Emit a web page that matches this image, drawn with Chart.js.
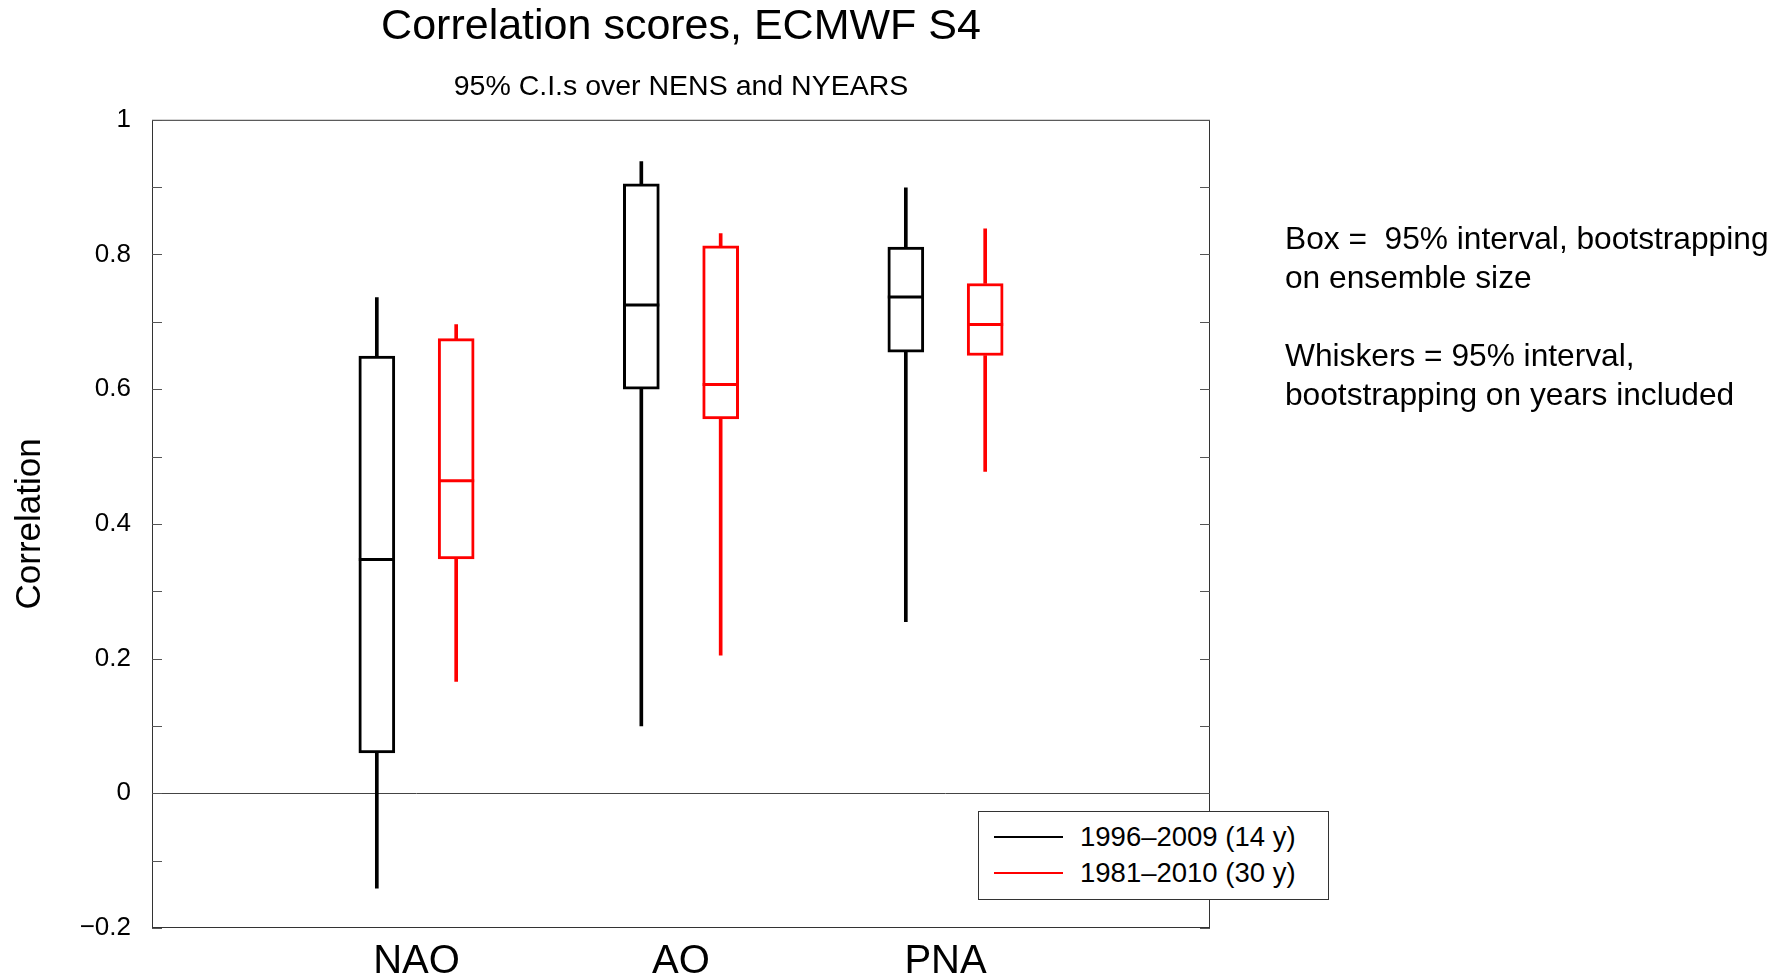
<!DOCTYPE html>
<html>
<head>
<meta charset="utf-8">
<script src="https://cdn.jsdelivr.net/npm/chart.js@4/dist/chart.umd.min.js"></script>
<style>
  body { margin: 0; background: #fff; overflow: hidden; }
  #wrap { position: relative; width: 1790px; height: 975px; }
  #legend {
    position: absolute; left: 978px; top: 811px; width: 349px; height: 87px;
    border: 1px solid #333; background: #fff;
    font-family: "Liberation Sans", Arial, sans-serif; font-size: 27.5px; color: #000;
  }
  .row { position: absolute; left: 0; height: 30px; display: flex; align-items: center; }
  .swatch { width: 69px; height: 2px; margin-left: 15px; margin-right: 17px; }
  #notes {
    position: absolute; left: 1285px; top: 219px; white-space: pre;
    font-family: "Liberation Sans", Arial, sans-serif; font-size: 31.7px; line-height: 39px; color: #000;
  }
</style>
</head>
<body>
<div id="wrap">
  <canvas id="chart" width="1790" height="975"></canvas>
  <div id="legend"></div>
  <div id="notes"></div>
</div>
<script>
// categories and series
const categories = ["NAO", "AO", "PNA"];
const seriesNames = ["1996–2009 (14 y)", "1981–2010 (30 y)"];
const seriesColors = ["#000000", "#ff0000"];

// 1996-2009 (14 y)
const shortWhiskerLow  = [-0.141, 0.100, 0.255];
const shortBoxLow      = [0.060, 0.600, 0.655];
const shortMedian      = [0.347, 0.725, 0.737];
const shortBoxHigh     = [0.649, 0.905, 0.811];
const shortWhiskerHigh = [0.736, 0.938, 0.899];

// 1981-2010 (30 y)
const longWhiskerLow  = [0.166, 0.205, 0.478];
const longBoxLow      = [0.348, 0.556, 0.650];
const longMedian      = [0.464, 0.607, 0.696];
const longBoxHigh     = [0.675, 0.813, 0.757];
const longWhiskerHigh = [0.696, 0.831, 0.838];

// axis ticks
const yTicks = [-0.2, 0, 0.2, 0.4, 0.6, 0.8, 1];
const yMinorTicks = [-0.2, -0.1, 0, 0.1, 0.2, 0.3, 0.4, 0.5, 0.6, 0.7, 0.8, 0.9, 1];

const noteLines = [
  "Box =  95% interval, bootstrapping",
  "on ensemble size",
  "",
  "Whiskers = 95% interval,",
  "bootstrapping on years included"
];

const series = [
  { lo: shortWhiskerLow, q1: shortBoxLow, med: shortMedian, q3: shortBoxHigh, hi: shortWhiskerHigh },
  { lo: longWhiskerLow, q1: longBoxLow, med: longMedian, q3: longBoxHigh, hi: longWhiskerHigh }
];
const seriesOffset = [-0.15, 0.15];
const catX = categories.map((c, i) => i + 1);

const datasets = [];
series.forEach((s, k) => {
  const col = seriesColors[k];
  const xs = catX.map(x => x + seriesOffset[k]);
  // whiskers
  datasets.push({
    type: "bar",
    label: seriesNames[k] + " whiskers",
    data: xs.flatMap((x, i) => [{ x: x, y: [s.lo[i], s.q1[i]] }, { x: x, y: [s.q3[i], s.hi[i]] }]),
    backgroundColor: col,
    borderWidth: 0,
    barThickness: 3,
    grouped: false,
    order: 3
  });
  // boxes
  datasets.push({
    type: "bar",
    label: seriesNames[k],
    data: xs.map((x, i) => ({ x: x, y: [s.q1[i], s.q3[i]] })),
    backgroundColor: "#ffffff",
    borderColor: col,
    borderWidth: 3,
    borderSkipped: false,
    barThickness: 36,
    grouped: false,
    order: 2
  });
  // medians
  datasets.push({
    type: "scatter",
    label: seriesNames[k] + " median",
    data: xs.map((x, i) => ({ x: x, y: s.med[i] })),
    pointStyle: "line",
    pointRadius: 18,
    pointHoverRadius: 18,
    borderColor: col,
    borderWidth: 3,
    order: 1
  });
});

// frame with inward ticks on both sides
const framePlugin = {
  id: "frame",
  afterDraw(chart) {
    const { ctx, chartArea: a, scales: { y } } = chart;
    ctx.save();
    ctx.strokeStyle = "#333";
    ctx.lineWidth = 1;
    ctx.strokeRect(a.left + 0.5, a.top + 0.5, a.right - a.left - 1, a.bottom - a.top - 1);
    ctx.strokeStyle = "#555";
    yMinorTicks.forEach(v => {
      const py = Math.round(y.getPixelForValue(v)) + 0.5;
      ctx.beginPath();
      ctx.moveTo(a.left, py); ctx.lineTo(a.left + 10, py);
      ctx.moveTo(a.right, py); ctx.lineTo(a.right - 10, py);
      ctx.stroke();
    });
    ctx.restore();
  }
};

new Chart(document.getElementById("chart"), {
  type: "bar",
  data: { datasets: datasets },
  options: {
    responsive: false,
    animation: false,
    layout: { padding: { left: 0, right: 580, top: 0, bottom: 0 } },
    plugins: {
      legend: { display: false },
      tooltip: { enabled: false },
      title: {
        display: true,
        text: "Correlation scores, ECMWF S4",
        fullSize: false,
        color: "#000",
        font: { family: "Liberation Sans", size: 43, weight: "normal" },
        padding: { top: 1, bottom: 17 }
      },
      subtitle: {
        display: true,
        text: "95% C.I.s over NENS and NYEARS",
        fullSize: false,
        color: "#000",
        font: { family: "Liberation Sans", size: 28.5, weight: "normal" },
        padding: { top: 0, bottom: 16 }
      }
    },
    scales: {
      x: {
        type: "linear",
        min: 0,
        max: 4,
        offset: false,
        afterFit(scale) { scale.height = 47; },
        afterBuildTicks(scale) { scale.ticks = catX.map(v => ({ value: v })); },
        ticks: {
          callback: v => categories[v - 1],
          color: "#000",
          font: { family: "Liberation Sans", size: 40 },
          padding: 2,
          maxRotation: 0,
          autoSkip: false
        },
        grid: { display: false, offset: false },
        border: { display: false }
      },
      y: {
        min: -0.2,
        max: 1,
        afterFit(scale) { scale.width = 152; },
        afterBuildTicks(scale) { scale.ticks = yTicks.map(v => ({ value: v })); },
        ticks: {
          callback: v => (v < 0 ? "\u2212" + Math.abs(v) : String(v)),
          color: "#000",
          font: { family: "Liberation Sans", size: 26 },
          padding: 21
        },
        grid: {
          drawTicks: false,
          color: c => (c.tick && c.tick.value === 0 ? "#444" : "rgba(0,0,0,0)"),
          lineWidth: 1
        },
        border: { display: false },
        title: {
          display: true,
          text: "Correlation",
          color: "#000",
          font: { family: "Liberation Sans", size: 35 },
          padding: { top: 9, bottom: 0 }
        }
      }
    }
  },
  plugins: [framePlugin]
});

// legend
const legend = document.getElementById("legend");
seriesNames.forEach((name, k) => {
  const row = document.createElement("div");
  row.className = "row";
  row.style.top = (10 + k * 35.5) + "px";
  const sw = document.createElement("div");
  sw.className = "swatch";
  sw.style.background = seriesColors[k];
  const label = document.createElement("span");
  label.textContent = name;
  row.appendChild(sw);
  row.appendChild(label);
  legend.appendChild(row);
});

document.getElementById("notes").textContent = noteLines.join("\n");
</script>
</body>
</html>
